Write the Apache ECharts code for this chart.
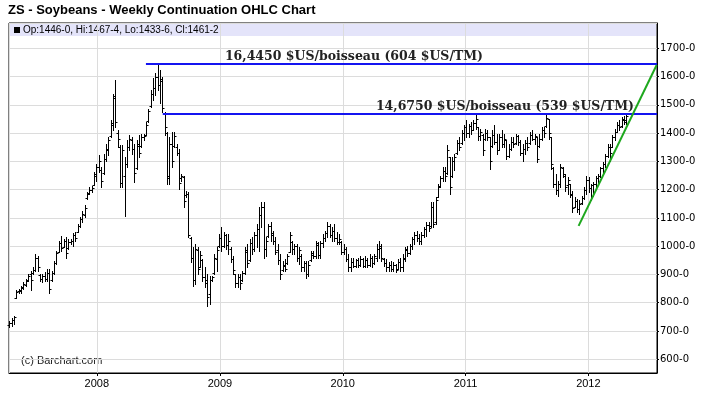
<!DOCTYPE html>
<html>
<head>
<meta charset="utf-8">
<script src="https://cdn.jsdelivr.net/npm/echarts@6/dist/echarts.min.js"></script>
<style>
  html, body { margin: 0; padding: 0; background: #fff; }
  #chart { width: 708px; height: 399px; }
</style>
</head>
<body>
<div id="chart"></div>
<script>
// weekly bars, first week 2007-04-16
var firstWeek = Date.UTC(2007, 3, 16);
var DAY = 86400000;

var opens = [
  720,728,738,818,840,842,852,864,880,900,
  905,915,958,898,885,893,885,905,880,905,
  940,980,1010,998,1018,992,1015,1020,1040,1050,
  1070,1095,1112,1170,1188,1198,1215,1250,1280,1270,
  1260,1310,1340,1390,1430,1530,1400,1350,1225,1250,
  1290,1350,1375,1345,1275,1355,1355,1385,1395,1442,
  1495,1540,1560,1600,1570,1585,1470,1400,1250,1360,
  1355,1350,1330,1240,1245,1180,1185,1030,960,880,
  985,925,950,890,880,830,880,905,955,1000,
  1030,1000,1040,1005,990,955,900,870,890,880,
  905,980,950,1010,990,1040,1060,1110,1140,990,
  1035,1070,1045,1020,985,950,915,930,940,980,
  1015,990,1000,960,965,925,940,900,950,970,
  965,1005,970,1010,1030,1045,1070,1040,1055,1030,
  1015,1015,980,990,955,925,945,930,950,935,
  955,930,950,935,960,940,960,990,995,955,
  940,925,935,920,935,920,945,925,955,985,
  975,1000,1025,1040,1030,1020,1040,1060,1075,1070,
  1140,1085,1175,1212,1240,1265,1258,1315,1250,1300,
  1330,1365,1365,1400,1420,1400,1425,1412,1435,1420,
  1390,1395,1380,1400,1385,1355,1395,1370,1340,1385,
  1360,1375,1320,1345,1370,1365,1390,1370,1330,1345,
  1365,1365,1395,1380,1385,1355,1380,1410,1425,1451,
  1385,1275,1220,1200,1220,1275,1250,1215,1220,1185,
  1140,1160,1130,1152,1170,1200,1235,1205,1215,1220,
  1240,1250,1275,1290,1320,1350,1352,1385,1405,1430,1425,1445,1446
];
var highs = [
  736,747,753,845,848,860,872,883,901,913,
  925,972,966,901,901,907,919,919,913,948,
  984,1020,1037,1025,1031,1025,1025,1045,1049,1079,
  1102,1126,1144,1191,1209,1214,1262,1292,1321,1280,
  1327,1363,1386,1445,1540,1588,1410,1357,1357,1315,
  1375,1392,1386,1363,1375,1392,1398,1398,1440,1487,
  1552,1594,1611,1645,1625,1599,1475,1404,1386,1404,
  1404,1360,1345,1256,1250,1197,1191,1031,996,1008,
  996,984,954,925,901,895,895,972,996,1043,
  1067,1049,1043,1043,996,966,901,901,901,913,
  996,1008,1025,1031,1049,1079,1138,1156,1156,1031,
  1079,1085,1055,1031,1008,972,948,954,972,1049,
  1020,1008,1008,996,972,948,948,948,984,984,
  1020,1014,1020,1043,1055,1085,1079,1067,1079,1049,
  1043,1020,1008,996,972,960,960,954,960,966,
  960,966,960,972,966,972,1008,1020,1008,960,
  954,943,948,943,937,954,960,972,996,1002,
  1008,1031,1049,1055,1043,1049,1067,1085,1085,1156,
  1156,1173,1221,1250,1280,1280,1357,1315,1315,1327,
  1375,1386,1410,1428,1445,1434,1440,1445,1467,1422,
  1416,1398,1416,1410,1386,1410,1428,1398,1398,1410,
  1398,1375,1363,1386,1386,1398,1392,1375,1363,1375,
  1386,1404,1410,1398,1386,1398,1422,1422,1469,1451,
  1386,1280,1256,1232,1292,1280,1256,1244,1221,1197,
  1173,1167,1162,1179,1209,1250,1244,1221,1227,1250,
  1256,1280,1298,1327,1363,1363,1392,1416,1440,1445,1457,1460,1467.5
];
var lows = [
  714,718,724,816,836,836,848,860,878,845,
  901,913,913,878,872,878,878,836,878,901,
  937,978,984,996,960,990,1008,1002,1020,1049,
  1067,1085,1102,1167,1185,1191,1215,1232,1262,1209,
  1256,1303,1321,1386,1410,1422,1351,1209,1209,1108,
  1280,1339,1327,1227,1274,1315,1351,1375,1392,1440,
  1493,1517,1534,1552,1505,1475,1392,1221,1221,1280,
  1351,1321,1203,1232,1138,1173,1031,943,860,866,
  901,925,878,854,789,795,878,901,913,996,
  984,996,990,972,943,901,854,854,848,878,
  901,925,948,972,984,996,984,1067,960,966,
  1031,1020,1008,972,937,883,913,913,937,978,
  972,972,948,937,913,913,889,895,948,960,
  960,960,960,996,1020,1031,1031,1020,1020,1008,
  1008,972,972,948,913,913,925,925,925,931,
  925,925,925,931,925,937,948,960,948,931,
  913,913,913,913,907,919,913,913,948,966,
  972,990,1008,1020,1008,1008,1031,1037,1055,1067,
  1067,1079,1173,1209,1232,1232,1256,1185,1244,1268,
  1327,1339,1363,1375,1386,1386,1398,1410,1416,1375,
  1375,1321,1375,1375,1274,1351,1363,1327,1339,1351,
  1351,1309,1315,1339,1351,1363,1357,1321,1303,1327,
  1339,1363,1375,1363,1298,1351,1375,1386,1422,1380,
  1274,1209,1185,1179,1209,1244,1197,1185,1173,1120,
  1138,1120,1114,1150,1167,1185,1191,1162,1179,1209,
  1221,1244,1256,1280,1315,1303,1351,1375,1404,1410,1422,1434,1433.75
];
var closes = [
  730,740,748,838,844,855,866,878,895,880,
  915,960,925,885,895,885,905,850,905,940,
  975,1010,995,1018,975,1015,1020,1040,1030,1070,
  1095,1115,1135,1185,1200,1205,1255,1280,1300,1230,
  1310,1345,1375,1435,1525,1440,1380,1225,1340,1290,
  1350,1380,1345,1260,1360,1330,1385,1390,1430,1480,
  1540,1560,1600,1570,1590,1490,1420,1240,1360,1300,
  1390,1330,1225,1250,1160,1185,1040,960,880,990,
  920,970,890,870,820,880,890,960,985,1030,
  1000,1040,1005,1020,955,915,870,890,870,905,
  985,940,1010,990,1040,1060,1110,1140,990,1020,
  1070,1040,1020,980,950,900,935,920,965,1040,
  990,1000,960,985,925,940,900,935,975,965,
  1010,970,1010,1030,1045,1070,1040,1055,1030,1015,
  1025,980,990,955,925,945,930,950,935,955,
  930,950,935,960,940,965,990,1000,960,940,
  925,935,920,935,915,945,925,960,990,975,
  1000,1025,1040,1030,1020,1040,1060,1075,1065,1140,
  1080,1165,1210,1240,1265,1250,1340,1210,1300,1315,
  1365,1350,1400,1420,1400,1425,1410,1435,1450,1390,
  1405,1340,1400,1385,1300,1395,1370,1340,1385,1360,
  1380,1320,1345,1370,1360,1390,1370,1330,1345,1365,
  1350,1395,1380,1390,1310,1380,1410,1400,1455,1400,
  1290,1220,1200,1220,1280,1255,1210,1235,1180,1135,
  1160,1130,1150,1170,1200,1235,1205,1215,1220,1240,
  1250,1275,1290,1320,1350,1330,1385,1405,1430,1420,1450,1440,1461.25
];

var yTicks = [600, 700, 800, 900, 1000, 1100, 1200, 1300, 1400, 1500, 1600, 1700];
var highLevel = 1644.5;   // 16,4450 $US/boisseau
var midLevel = 1467.5;    // 14,6750 $US/boisseau
var trendStart = [Date.UTC(2011, 11, 3), 1072];
var trendEnd = [Date.UTC(2012, 6, 22), 1641];
var xMin = Date.UTC(2007, 3, 15);
var xMax = Date.UTC(2012, 6, 23);

var rows = [];
for (var i = 0; i < closes.length; i++) {
  rows.push([firstWeek + i * 7 * DAY, opens[i], highs[i], lows[i], closes[i]]);
}

function fmtPrice(v) {
  var whole = Math.floor(v);
  var eighths = Math.round((v - whole) * 8);
  return whole + '-' + eighths;
}

function renderBar(params, api) {
  var t = api.value(0);
  var x = Math.round(api.coord([t, 0])[0]) + 0.5;
  var yo = Math.round(api.coord([t, api.value(1)])[1]) + 0.5;
  var yh = Math.round(api.coord([t, api.value(2)])[1]);
  var yl = Math.round(api.coord([t, api.value(3)])[1]) + 1;
  var yc = Math.round(api.coord([t, api.value(4)])[1]) + 0.5;
  var st = { stroke: '#000', lineWidth: 1 };
  return {
    type: 'group',
    children: [
      { type: 'line', shape: { x1: x, y1: yh, x2: x, y2: yl }, style: st },
      { type: 'line', shape: { x1: x - 2, y1: yo, x2: x, y2: yo }, style: st },
      { type: 'line', shape: { x1: x, y1: yc, x2: x + 2, y2: yc }, style: st }
    ]
  };
}

var myChart = echarts.init(document.getElementById('chart'));
var last = closes.length - 1;
var levelFont = { fontFamily: 'DejaVu Serif', fontWeight: 'bold', fontSize: 12.5, color: '#222' };
var option = {
  backgroundColor: '#fff',
  animation: false,
  title: {
    text: 'ZS - Soybeans - Weekly Continuation OHLC Chart',
    left: 8,
    top: 4,
    padding: 0,
    textStyle: { fontFamily: 'Liberation Sans', fontSize: 13, fontWeight: 'bold', color: '#000' }
  },
  grid: {
    left: 9, right: 51, top: 23, bottom: 26,
    show: true, borderColor: '#000', borderWidth: 1, backgroundColor: 'transparent'
  },
  graphic: [
    { type: 'rect', z: -10, shape: { x: 10, y: 24, width: 646, height: 12 }, style: { fill: '#e4e4fa' } },
    { type: 'rect', shape: { x: 14, y: 27, width: 6, height: 6 }, style: { fill: '#000' } },
    { type: 'text', left: 23, top: 25, style: {
        text: 'Op:' + fmtPrice(opens[last]) + ', Hi:' + fmtPrice(highs[last]) + ', Lo:' + fmtPrice(lows[last]) + ', Cl:' + fmtPrice(closes[last]),
        fontFamily: 'Liberation Sans', fontSize: 10, fill: '#000' } },
    { type: 'text', left: 21, top: 355, style: {
        text: '(c) Barchart.com', fontFamily: 'Liberation Sans', fontSize: 11, fill: '#222' } }
  ],
  xAxis: {
    type: 'time',
    min: xMin,
    max: xMax,
    splitNumber: 5,
    minInterval: 365 * DAY,
    axisLine: { lineStyle: { color: '#000' } },
    axisTick: { show: true, length: 3, lineStyle: { color: '#000' } },
    axisLabel: { formatter: '{yyyy}', color: '#000', fontFamily: 'Liberation Sans', fontSize: 11, margin: 5 },
    splitLine: { show: true, lineStyle: { color: '#dcdcdc' } }
  },
  yAxis: {
    type: 'value',
    position: 'right',
    min: 551.5,
    max: 1789.5,
    splitNumber: 12,
    minInterval: yTicks[1] - yTicks[0],
    maxInterval: yTicks[1] - yTicks[0],
    axisLine: { show: true, lineStyle: { color: '#000' } },
    axisTick: { show: true, length: 2, lineStyle: { color: '#000' } },
    axisLabel: {
      showMinLabel: false, showMaxLabel: false, margin: 3,
      color: '#000', fontFamily: 'DejaVu Sans', fontSize: 10,
      formatter: function (v) { return yTicks.indexOf(v) >= 0 ? v + '-0' : ''; }
    },
    splitLine: { show: true, lineStyle: { color: '#dcdcdc' } }
  },
  series: [
    {
      name: 'ZS',
      type: 'custom',
      renderItem: renderBar,
      encode: { x: 0, y: [1, 2, 3, 4] },
      data: rows,
      z: 3,
      markLine: {
        silent: true,
        symbol: 'none',
        animation: false,
        data: [
          [
            { coord: [Date.UTC(2008, 4, 26), highLevel], lineStyle: { color: '#1414f0', width: 2, type: 'solid' },
              label: Object.assign({ show: true, position: 'insideEndTop', distance: 1,
                       formatter: '16,4450 $US/boisseau (604 $US/TM)', padding: [0, 173, 0, 0] }, levelFont) },
            { coord: [xMax, highLevel] }
          ],
          [
            { coord: [Date.UTC(2008, 6, 15), midLevel], lineStyle: { color: '#1414f0', width: 2, type: 'solid' },
              label: Object.assign({ show: true, position: 'insideEndTop', distance: 1,
                       formatter: '14,6750 $US/boisseau (539 $US/TM)', padding: [0, 22, 0, 0] }, levelFont) },
            { coord: [xMax, midLevel] }
          ],
          [
            { coord: trendStart, lineStyle: { color: '#1ea81e', width: 2, type: 'solid' }, label: { show: false } },
            { coord: trendEnd }
          ],
          {
            yAxis: closes[last],
            lineStyle: { opacity: 0 },
            label: { show: true, position: 'end', distance: 1, formatter: fmtPrice(closes[last]),
                     backgroundColor: '#000', color: '#fff', fontFamily: 'DejaVu Sans', fontSize: 10, padding: [1, 2, 0, 2] }
          }
        ]
      }
    }
  ]
};
myChart.setOption(option);
</script>
</body>
</html>
